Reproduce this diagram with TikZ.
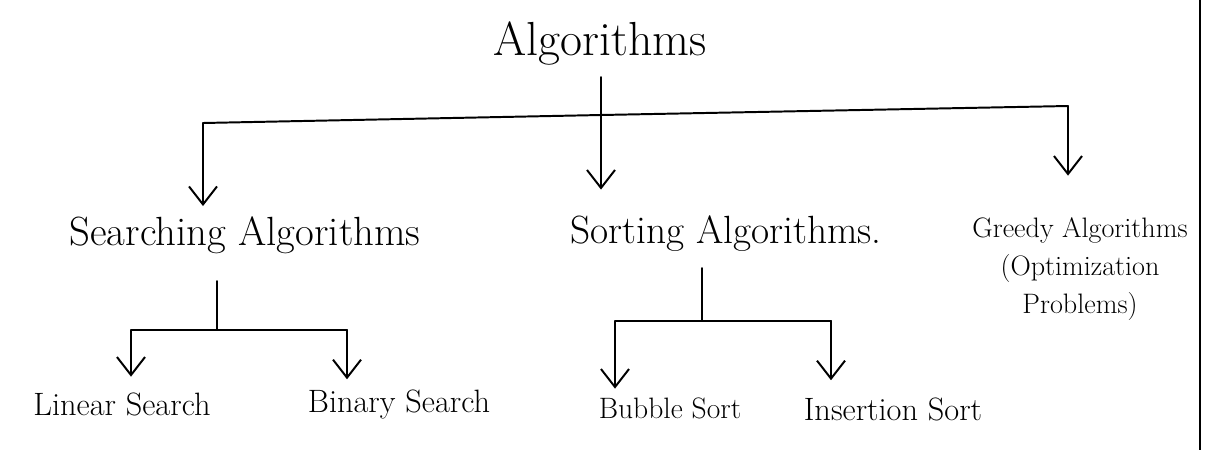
\documentclass[tikz,border=0pt]{standalone}
\usetikzlibrary{arrows.meta}
\tikzset{
  wire/.style={line width=1.4pt, line join=round, line cap=round},
  arr/.style={wire, -{Straight Barb[length=4.5mm, width=7mm, line width=1.4pt]}},
  toptext/.style={font=\fontsize{34}{40}\selectfont, inner sep=2pt},
  midtext/.style={font=\fontsize{29}{34}\selectfont, inner sep=2pt},
  leaftext/.style={font=\fontsize{23}{28}\selectfont, inner sep=2pt},
}
\begin{document}
\begin{tikzpicture}[x=0.025cm, y=-0.025cm]
            \useasboundingbox (0,0) rectangle (1207,450);
            \node[toptext, anchor=base] (alg) at (600,55) {Algorithms};
            \node[midtext, anchor=base] (srch) at (245,245) {Searching Algorithms};
            \node[midtext, anchor=base, font=\fontsize{28}{34}\selectfont] (sort) at (726,243) {Sorting Algorithms.};
            \node[anchor=north, align=center, inner sep=2pt, font=\fontsize{20}{27}\selectfont] (grdy) at (1080,215) {Greedy Algorithms\\(Optimization\\Problems)};
            \node[leaftext, anchor=base] (lin) at (122,415) {Linear Search};
            \node[leaftext, anchor=base] (bin) at (399,412) {Binary Search};
            \node[leaftext, anchor=base, font=\fontsize{21}{26}\selectfont] (bub) at (670,418) {Bubble Sort};
            \node[leaftext, anchor=base] (ins) at (893,420) {Insertion Sort};

            % top level
            \coordinate (stemtop) at (601,77);
            \coordinate (fork) at (601,115);
            \coordinate (lcorner) at (203,123);
            \coordinate (rcorner) at (1068,106);
            \draw[wire] (stemtop) -- (fork);
            \draw[wire] (lcorner) -- (fork) -- (rcorner);
            \draw[arr, shorten >=5pt] (lcorner) -- (lcorner |- srch.north);
            \draw[arr, shorten >=16pt] (fork) -- (fork |- sort.north);
            \draw[arr, shorten >=28pt] (rcorner) -- (rcorner |- grdy.north);

            % searching
            \coordinate (sstem) at (217,281);
            \coordinate (ssplit) at (217,330);
            \coordinate (sleft) at (131,330);
            \coordinate (sright) at (347,330);
            \draw[wire] (sstem) -- (ssplit);
            \draw[wire] (sleft) -- (sright);
            \draw[arr, shorten >=9pt] (sleft) -- (sleft |- lin.north);
            \draw[arr, shorten >=5pt] (sright) -- (sright |- bin.north);

            % sorting
            \coordinate (tstem) at (702,268);
            \coordinate (tsplit) at (702,321);
            \coordinate (tleft) at (615,321);
            \coordinate (tright) at (831,321);
            \draw[wire] (tstem) -- (tsplit);
            \draw[wire] (tleft) -- (tright);
            \draw[arr, shorten >=4pt] (tleft) -- (tleft |- bub.north);
            \draw[arr, shorten >=10pt] (tright) -- (tright |- ins.north);

            % page edge
            \draw[line width=1pt] (1200,0) -- (1200,450);
\end{tikzpicture}
\end{document}
